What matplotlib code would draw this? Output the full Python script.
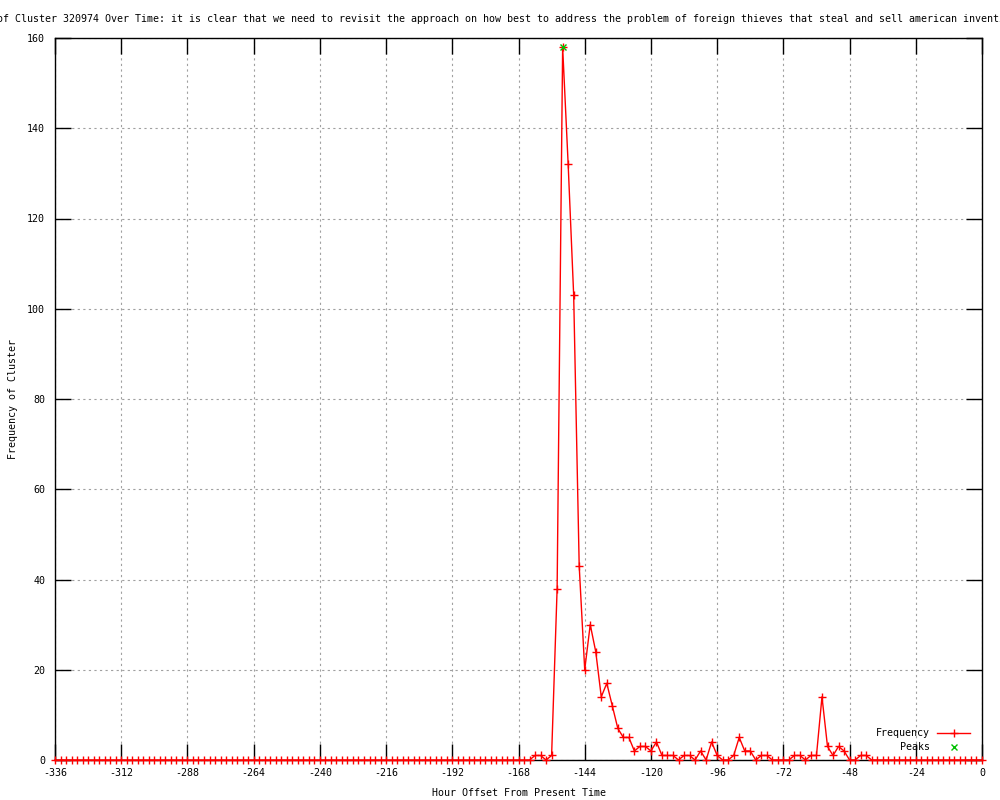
import matplotlib
matplotlib.use("Agg")
import matplotlib.pyplot as plt

# ---- data ----
hours = list(range(-336, 1, 2))
freq = (
    [0] * 86 +                      # -336 .. -166
    [0, 1, 1, 0, 1, 38, 158, 132, 103, 43,   # -164 .. -146
     20, 30, 24, 14, 17, 12, 7, 5, 5, 2,     # -144 .. -126
     3, 3, 2, 4, 1, 1, 1, 0, 1, 1,           # -124 .. -106
     0, 2, 0, 4, 1, 0, 0, 1, 5, 2,           # -104 .. -86
     2, 0, 1, 1, 0, 0, 0, 0, 1, 1,           # -84 .. -66
     0, 1, 1, 14, 3, 1, 3, 2, 0, 0,          # -64 .. -46
     1, 1] +                                 # -44 .. -42
    [0] * 21                                 # -40 .. 0
)
peak_hours = [-152]
peak_values = [158]

title = ("Frequency of Cluster 320974 Over Time: it is clear that we need to revisit "
         "the approach on how best to address the problem of foreign thieves that "
         "steal and sell american inventions")
xticks = list(range(-336, 1, 24))
yticks = list(range(0, 161, 20))

plt.rcParams['font.family'] = ['DejaVu Sans Mono']
plt.rcParams['axes.unicode_minus'] = False
FS = 7.2

fig = plt.figure(figsize=(10, 8), dpi=100)
ax = fig.add_axes([0.055, 0.05, 0.927, 0.9025])
ax.set_xlim(-336, 0)
ax.set_ylim(0, 160)
ax.set_xticks(xticks)
ax.set_yticks(yticks)
ax.tick_params(direction='in', length=11.5, width=1, top=True, right=True,
               labelsize=FS, colors='black')
ax.tick_params(axis='x', pad=5.5)
ax.tick_params(axis='y', pad=7)
ax.grid(True, color='#a0a0a0', linestyle=(0, (2, 3)), linewidth=0.8)
ax.set_axisbelow(True)
for s in ax.spines.values():
    s.set_linewidth(1)
    s.set_color('black')

ax.plot(hours, freq, color='#ff0000', lw=1, marker='+', ms=5.5, mew=1,
        label='Frequency', clip_on=False, zorder=3)
ax.plot(peak_hours, peak_values, ls='none', marker='x', ms=5, mew=1,
        color='#00c000', label='    Peaks', clip_on=False, zorder=4)

leg = ax.legend(loc='lower right', bbox_to_anchor=(0.970, 1 - 752 / 800),
                bbox_transform=fig.transFigure, frameon=False, markerfirst=False,
                fontsize=FS, handlelength=3.3, handletextpad=0.7,
                labelspacing=0.35, borderpad=0, borderaxespad=0)

fig.text(-0.063, 1 - 19 / 800, title, ha='left', va='center', fontsize=FS)
fig.text(0.013, 1 - 399 / 800, 'Frequency of Cluster', rotation=90,
         ha='center', va='center', fontsize=FS)
fig.text(0.5185, 1 - 793 / 800, 'Hour Offset From Present Time',
         ha='center', va='center', fontsize=FS)

fig.savefig('out.png', dpi=100)
